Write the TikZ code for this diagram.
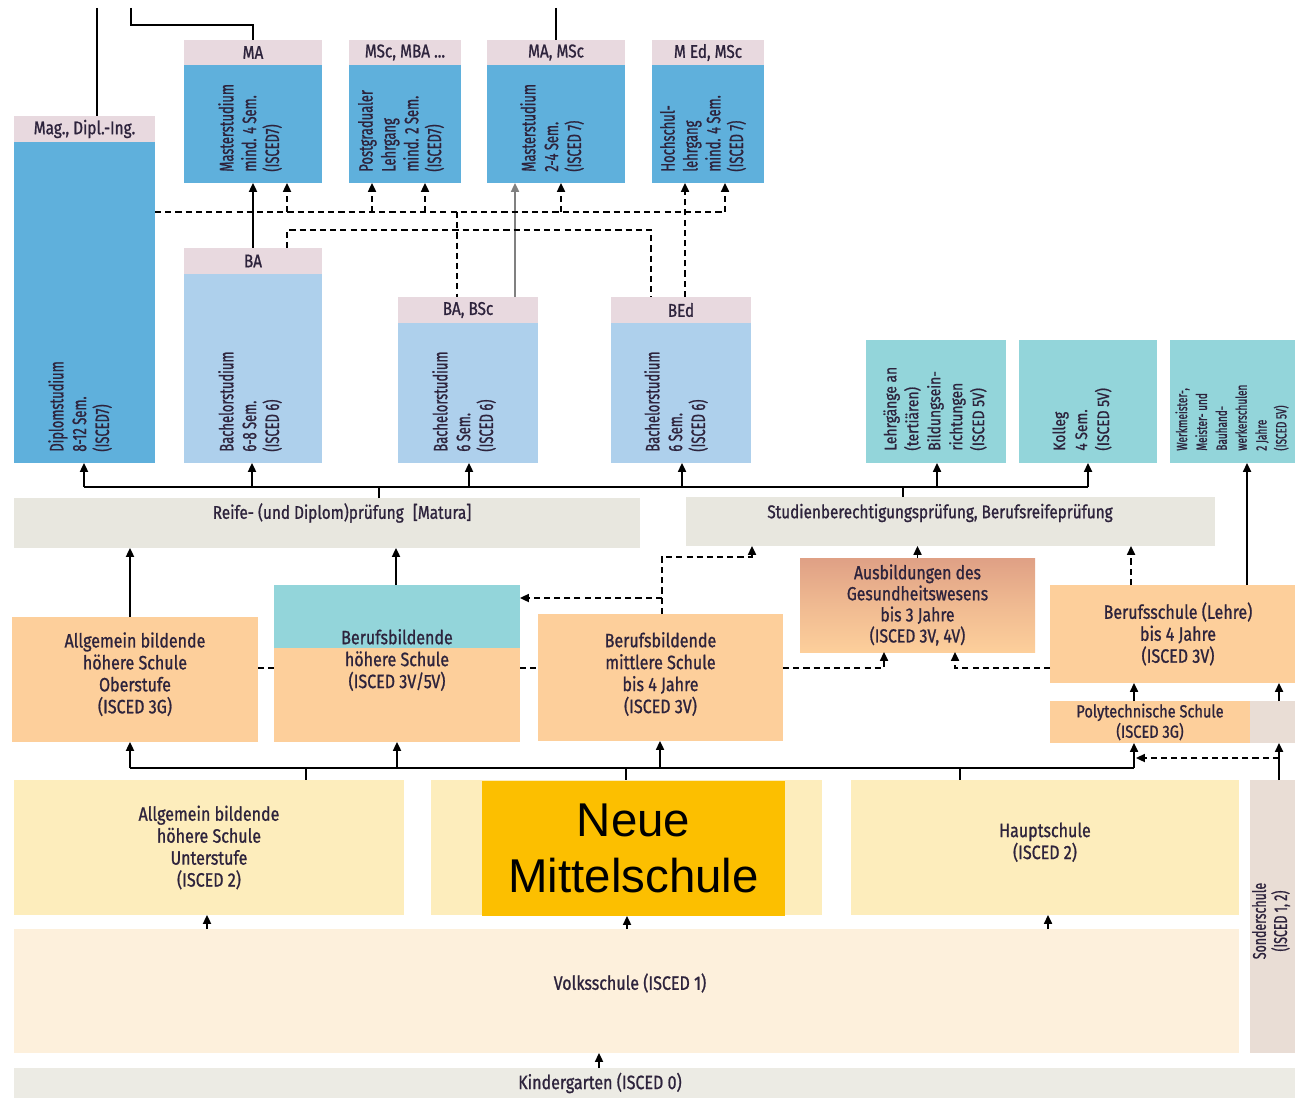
\documentclass[tikz,border=0pt]{standalone}
\usepackage{fontspec}
\setmainfont{Fira Sans}[FakeStretch=0.83, FakeBold=1]
\newfontfamily\rotfont{Fira Sans}[FakeStretch=0.67, FakeBold=1]
\newfontfamily\arialfont{Liberation Sans}
\usetikzlibrary{positioning, fit, arrows.meta}

\definecolor{headpink}{RGB}{232,217,223}
\definecolor{masterblue}{RGB}{95,176,220}
\definecolor{bachblue}{RGB}{174,208,236}
\definecolor{tealbox}{RGB}{147,213,218}
\definecolor{bargray}{RGB}{232,231,223}
\definecolor{peach}{RGB}{253,207,155}
\definecolor{salmon}{RGB}{223,160,133}
\definecolor{lightyel}{RGB}{253,237,188}
\definecolor{volkscol}{RGB}{253,240,220}
\definecolor{sondercol}{RGB}{233,221,213}
\definecolor{kigacol}{RGB}{236,235,228}
\definecolor{nmscol}{RGB}{252,191,0}
\definecolor{txtcol}{RGB}{45,35,60}

\tikzset{
  area/.style={inner sep=0pt, outer sep=0pt},
  head/.style={area, fill=headpink},
  atext/.style={inner sep=0pt, align=center, text=txtcol,
    font=\fontsize{11}{12.5}\selectfont},
  htext/.style={atext, font=\fontsize{10.5}{12}\selectfont},
  vtext/.style={rotate=90, anchor=west, align=left, inner sep=0pt, text=txtcol,
    font=\rotfont\fontsize{11}{13}\selectfont},
  conn/.style={line width=1.1pt},
  arr/.style={conn, -{Triangle[length=5pt,width=4.5pt]}},
  darr/.style={arr, dash pattern=on 3.5pt off 2.3pt},
  dline/.style={conn, dash pattern=on 3.5pt off 2.3pt},
}

\begin{document}
\begin{tikzpicture}[x=0.02cm, y=-0.02cm]
    \useasboundingbox (0,0) rectangle (1295,1098);
    \clip (0,0) rectangle (1295,1098);

    % Hochschulen: Master und Diplom
    \node[head, fit={(14,116) (155,142)}, label={[htext]center:{Mag., Dipl.-Ing.}}] (mag) {};
    \node[area, fill=masterblue, fit={(14,142) (155,463)}] (diplom) {};
    \node[vtext] at (80,452) {Diplomstudium\\8-12 Sem.\\(ISCED7)};

    \node[head, fit={(184,40) (322,65)}, label={[htext]center:MA}] (ma_h) {};
    \node[area, fill=masterblue, fit={(184,65) (322,183)}] (ma) {};
    \node[vtext] at (250,172) {Masterstudium\\mind. 4 Sem.\\(ISCED7)};

    \node[head, fit={(349,40) (461,65)}, label={[htext]center:{MSc, MBA ...}}] (msc_h) {};
    \node[area, fill=masterblue, fit={(349,65) (461,183)}] (msc) {};
    \node[vtext] at (401,172) {Postgradualer\\Lehrgang\\mind. 2 Sem.\\(ISCED7)};

    \node[head, fit={(487,40) (625,65)}, label={[htext]center:{MA, MSc}}] (mamsc_h) {};
    \node[area, fill=masterblue, fit={(487,65) (625,183)}] (mamsc) {};
    \node[vtext] at (552,172) {Masterstudium\\2-4 Sem.\\(ISCED 7)};

    \node[head, fit={(652,40) (764,65)}, label={[htext]center:{M Ed, MSc}}] (med_h) {};
    \node[area, fill=masterblue, fit={(652,65) (764,183)}] (med) {};
    \node[vtext] at (703,172) {Hochschul-\\lehrgang\\mind. 4 Sem.\\(ISCED 7)};

    % Bachelor
    \node[head, fit={(184,248) (322,274)}, label={[htext]center:BA}] (ba_h) {};
    \node[area, fill=bachblue, fit={(184,274) (322,463)}] (ba) {};
    \node[vtext] at (250,452) {Bachelorstudium\\6-8 Sem.\\(ISCED 6)};

    \node[head, fit={(398,297) (538,323)}, label={[htext]center:{BA, BSc}}] (bab_h) {};
    \node[area, fill=bachblue, fit={(398,323) (538,463)}] (bab) {};
    \node[vtext] at (464,452) {Bachelorstudium\\6 Sem.\\(ISCED 6)};

    \node[head, fit={(611,297) (751,323)}, label={[htext]center:BEd}] (bed_h) {};
    \node[area, fill=bachblue, fit={(611,323) (751,463)}] (bed) {};
    \node[vtext] at (676,452) {Bachelorstudium\\6 Sem.\\(ISCED 6)};

    % Lehrgaenge, Kolleg, Werkmeister
    \node[area, fill=tealbox, fit={(866,340) (1006,463)}] (lehrg) {};
    \node[vtext, font=\fontsize{9.5}{12.5}\selectfont] at (935,451) {Lehrgänge an\\(tertiären)\\Bildungsein-\\richtungen\\(ISCED 5V)};
    \node[area, fill=tealbox, fit={(1019,340) (1157,463)}] (kolleg) {};
    \node[vtext, font=\fontsize{9.5}{12.5}\selectfont] at (1082,451) {Kolleg\\4 Sem.\\(ISCED 5V)};
    \node[area, fill=tealbox, fit={(1170,340) (1310,463)}] (werkm) {};
    \node[vtext, font=\rotfont\fontsize{8.5}{11.3}\selectfont] at (1232,451) {Werkmeister-,\\Meister- und\\Bauhand-\\werkerschulen\\2 Jahre\\(ISCED 5V)};

    % Pruefungen
    \node[area, fill=bargray, fit={(14,498) (640,548)}] (reife) {};
    \node[atext, font=\fontsize{10.5}{12}\selectfont] at (342,513) {Reife- (und Diplom)prüfung\enspace[Matura]};
    \node[area, fill=bargray, fit={(686,497) (1215,546)}] (studb) {};
    \node[atext, font=\fontsize{10.5}{12}\selectfont] at (940,513) {Studienberechtigungsprüfung, Berufsreifeprüfung};

    % Sekundarstufe II
    \node[area, fill=peach, fit={(12,617) (258,742)},
        label={[atext, yshift=3pt]center:{Allgemein bildende\\höhere Schule\\Oberstufe\\(ISCED 3G)}}] (ahso) {};
    \node[area, fill=peach, fit={(274,585) (520,742)}] (bhs) {};
    \fill[tealbox] (bhs.north west) rectangle (bhs.east |- 0,648);
    \node[atext] at (397,660) {Berufsbildende\\höhere Schule\\(ISCED 3V/5V)};
    \node[area, fill=peach, fit={(538,614) (783,741)},
        label={[atext, yshift=2pt]center:{Berufsbildende\\mittlere Schule\\bis 4 Jahre\\(ISCED 3V)}}] (bms) {};
    \node[area, top color=salmon, bottom color=peach, middle color=peach!55!salmon, fit={(800,558) (1035,652)},
        label={[atext, font=\fontsize{10.8}{12}\selectfont]center:{Ausbildungen des\\Gesundheitswesens\\bis 3 Jahre\\(ISCED 3V, 4V)}}] (gesund) {};
    \node[area, fill=peach, fit={(1050,585) (1306,683)},
        label={[atext]center:{Berufsschule (Lehre)\\bis 4 Jahre\\(ISCED 3V)}}] (berufs) {};
    \node[area, fill=peach, fit={(1050,701) (1250,743)},
        label={[atext, font=\fontsize{10}{10.3}\selectfont]center:{Polytechnische Schule\\(ISCED 3G)}}] (poly) {};
    \node[area, fill=sondercol, fit={(1250,701) (1306,743)}] (polyx) {};

    % Sekundarstufe I, Primarstufe
    \node[area, fill=lightyel, fit={(14,780) (404,915)},
        label={[atext]center:{Allgemein bildende\\höhere Schule\\Unterstufe\\(ISCED 2)}}] (ahsu) {};
    \node[area, fill=lightyel, fit={(431,780) (822,915)}] (nmsbg) {};
    \node[area, fill=nmscol, fit={(482,781) (785,916)},
        label={[atext, text=black, font=\arialfont\fontsize{27}{32}\selectfont]center:{Neue\\Mittelschule}}] (nms) {};
    \node[area, fill=lightyel, fit={(851,780) (1239,915)},
        label={[atext, yshift=3pt]center:{Hauptschule\\(ISCED 2)}}] (haupt) {};
    \node[area, fill=sondercol, fit={(1250,780) (1306,1053)}] (sonder) {};
    \node[vtext, anchor=center, align=center, font=\rotfont\fontsize{10.5}{12}\selectfont] at (1271,921) {Sonderschule\\(ISCED 1, 2)};
    \node[area, fill=volkscol, fit={(14,929) (1239,1053)}] (volks) {};
    \node[atext] at (630,983) {Volksschule (ISCED 1)};
    \node[area, fill=kigacol, fit={(14,1068) (1310,1110)}] (kiga) {};
    \node[atext] at (600,1083) {Kindergarten (ISCED 0)};

    % Zugaenge von oben
    \coordinate (in1) at (97,8);
    \coordinate (in2) at (131,8);
    \coordinate (in3) at (556,8);
    \draw[conn] (in1) -- (in1 |- mag.north);
    \draw[conn] (in2) -- ++(0,17) -| (ma_h.north);
    \draw[conn] (in3) -- (in3 |- mamsc_h.north);

    % Bachelor -> Master
    \draw[arr] (ba_h.north) -- (ma.south);
    \draw[arr, draw=black!50] (bab_h.north -| 515,0) -- (mamsc.south -| 515,0);
    \draw[dline] (diplom.east |- 0,212) -- (725,212);
    \foreach \n/\x in {ma/287, msc/372, msc/425, mamsc/561, med/725}
        \draw[darr] (\x,212) -- (\n.south -| \x,0);
    \draw[dline] (ba_h.north -| 287,0) |- (651,230) -- (bed_h.north -| 651,0);
    \draw[dline] (457,212) -- (bab_h.north -| 457,0);
    \draw[darr] (bed_h.north -| 685,0) -- (med.south -| 685,0);

    % Pruefungen -> Hochschulen
    \coordinate (upbus) at (0,487);
    \draw[conn] (upbus -| 84,0) -- (upbus -| 1088,0);
    \foreach \n/\x in {diplom/84, ba/252, bab/469, bed/682, lehrg/937, kolleg/1088}
        \draw[arr] (upbus -| \x,0) -- (\n.south -| \x,0);
    \draw[conn] (reife.north -| 379,0) -- (upbus -| 379,0);
    \draw[conn] (studb.north -| 903,0) -- (upbus -| 903,0);

    % Sekundarstufe II -> Pruefungen
    \draw[arr] (ahso.north -| 130,0) -- (reife.south -| 130,0);
    \draw[arr] (bhs.north -| 396,0) -- (reife.south -| 396,0);
    \draw[darr] (bms.north -| 662,0) |- (752,557) -- (studb.south -| 752,0);
    \draw[darr] (662,598) -- (bhs.east |- 0,598);
    \draw[darr] (gesund.north) -- (gesund.north |- studb.south);
    \draw[darr] (berufs.north -| 1131,0) -- (studb.south -| 1131,0);
    \draw[arr] (berufs.north -| 1247,0) -- (werkm.south -| 1247,0);
    \draw[darr] (bms.east |- 0,668) -| (gesund.south -| 884,0);
    \draw[darr] (berufs.west |- 0,668) -| (gesund.south -| 955,0);
    \draw[dline] (ahso.east |- 0,668) -- (bhs.west |- 0,668);
    \draw[dline] (bhs.east |- 0,668) -- (bms.west |- 0,668);

    % Sekundarstufe I -> Sekundarstufe II
    \coordinate (lowbus) at (0,768);
    \draw[conn] (lowbus -| 130,0) -- (lowbus -| 1134,0);
    \foreach \n/\x in {ahso/130, bhs/397, bms/660, poly/1134}
        \draw[arr] (lowbus -| \x,0) -- (\n.south -| \x,0);
    \foreach \n/\x in {ahsu/306, nmsbg/626, haupt/960}
        \draw[conn] (lowbus -| \x,0) -- (\n.north -| \x,0);
    \draw[arr] (poly.north -| 1134,0) -- (berufs.south -| 1134,0);
    \draw[arr] (polyx.north -| 1279,0) -- (berufs.south -| 1279,0);
    \draw[arr] (sonder.north -| 1279,0) -- (polyx.south -| 1279,0);
    \draw[darr] (1279,758) -- (1136,758);

    % Primarstufe
    \foreach \n/\x in {ahsu/207, nms/627, haupt/1048}
        \draw[arr] (volks.north -| \x,0) -- (\n.south -| \x,0);
    \draw[arr] (kiga.north -| 599,0) -- (volks.south -| 599,0);
\end{tikzpicture}
\end{document}
